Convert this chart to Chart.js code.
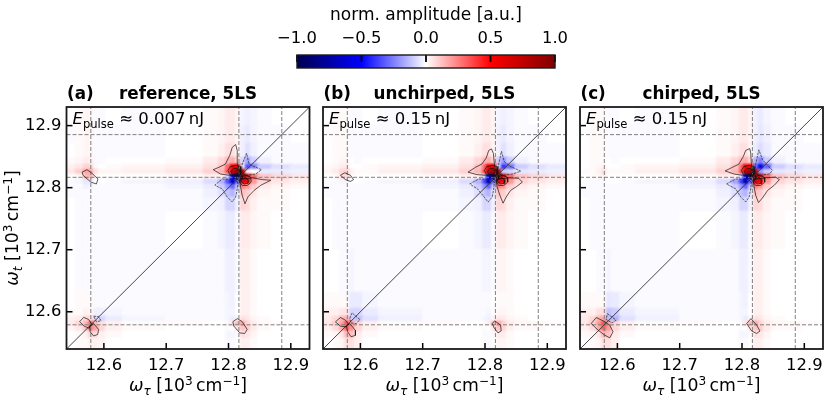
<!DOCTYPE html>
<html>
<head>
<meta charset="utf-8">
<title>norm. amplitude</title>
<script src="https://cdn.jsdelivr.net/npm/chart.js@4"></script>
<style>
  body { margin: 0; background: #fff; }
  canvas { position: absolute; left: 0; top: 0; }
</style>
</head>
<body>
<canvas id="colorbar" width="831" height="396"></canvas>
<canvas id="panelA" width="831" height="396"></canvas>
<canvas id="panelB" width="831" height="396"></canvas>
<canvas id="panelC" width="831" height="396"></canvas>
<script>
// Dados
const omegaTicks = [12.6, 12.7, 12.8, 12.9];
const colorbarTicks = [-1, -0.5, 0, 0.5, 1];
const axisMin = 12.54;
const axisMax = 12.93;
const peakLines = [12.579, 12.8167, 12.8855];
const titlesLeft = ["(a)", "(b)", "(c)"];
const titlesCenter = ["reference, 5LS", "unchirped, 5LS", "chirped, 5LS"];
const pulseEnergies = ["0.007", "0.15", "0.15"];

// Bordas das celulas da grade (10^3 cm^-1)
const cellEdges = [12.54, 12.556, 12.568, 12.576, 12.584, 12.592, 12.604, 12.63, 12.70, 12.76, 12.784,
  12.796, 12.804, 12.812, 12.82, 12.828, 12.836, 12.848, 12.87, 12.90, 12.93];

// Amplitude em %, linhas de cima para baixo
const ampA = [
  [0, 1, 2, 2, -1, -1, 0, -1, 0, 1, 2, 4, 4, 2, -2, -3, -2, -1, 0, 0],
  [-1, 1, 2, 2, -1, -1, -1, -1, 0, 1, 2, 4, 4, 2, -3, -4, -2, -1, -1, 0],
  [0, 1, 2, 2, -1, -1, -1, -1, 0, 1, 3, 6, 6, 2, -3, -6, -3, -1, -1, -1],
  [1, 2, 4, 3, -1, -1, 0, 0, 1, 4, 8, 14, 16, 8, -8, -18, -9, -3, -1, -1],
  [3, 5, 9, 8, -1, 0, 1, 2, 3, 6, 12, 30, 55, 60, -5, -35, -25, -10, -6, -4],
  [5, 10, 18, 18, 6, 2, 2, 3, 5, 9, 15, 35, 70, 90, 85, 5, 0, -4, -4, -3],
  [0, 2, 14, 15, 1, 0, 0, 0, 1, 3, 3, -8, -60, -95, 95, 70, 30, 12, 8, 5],
  [-1, -2, -5, -4, 0, 0, -1, -2, -3, -7, -15, -35, -70, -30, 60, 55, 20, 8, 5, 3],
  [-1, -1, -3, -2, -1, -1, -1, -1, -2, -4, -10, -20, -30, -10, 25, 20, 10, 4, 2, 1],
  [-1, -1, -1, -1, -1, -1, -1, -1, -1, -3, -6, -12, -15, -5, 12, 10, 5, 2, 1, 0],
  [0, -1, -1, -1, -1, -1, -1, -1, -1, -2, -3, -8, -8, -3, 8, 7, 3, 1, 1, 0],
  [0, -1, -1, -1, -1, -1, -1, -1, 0, -1, -2, -4, -4, -1, 4, 4, 2, 1, 0, 0],
  [0, -1, -1, -1, -1, -1, -1, -1, -1, -1, -1, -3, -3, -1, 3, 3, 1, 0, 0, 0],
  [0, 1, 1, 1, -1, -1, -1, -1, -1, -1, -1, -2, -3, 0, 3, 3, 1, 0, 0, 0],
  [1, 1, 3, 2, -3, -3, -2, -1, -1, -1, -1, -2, -2, 0, 3, 3, 1, 0, 0, 0],
  [3, 4, 8, 8, -6, -8, -4, -2, -1, -1, -1, -2, -4, 2, 6, 5, 2, 1, 0, 0],
  [4, 8, 15, 30, 14, 6, 3, 1, 1, 0, 0, 2, 5, 15, 18, 8, 4, 1, 1, 0],
  [2, 5, 12, 25, 18, 8, 3, 1, 0, 0, 0, -1, 0, 5, 12, 10, 4, 1, 0, 0],
  [0, 1, 3, 8, 7, 3, 1, 0, 0, 0, 0, -2, -2, 1, 6, 5, 2, 0, 0, 0],
  [0, 1, 1, 3, 3, 2, 0, 0, 0, 0, 0, -1, -1, 0, 3, 3, 1, 0, 0, 0],
];

const ampB = [
  [0, 1, 1, 1, -1, -1, 0, -1, 0, 1, 2, 4, 4, 2, -2, -3, -2, -1, 0, 0],
  [0, 1, 1, 1, -1, -1, -1, -1, 0, 1, 2, 4, 4, 2, -3, -4, -2, -1, -1, 0],
  [0, 1, 1, 1, -1, -1, -1, -1, 0, 1, 3, 6, 6, 2, -3, -6, -3, -1, -1, -1],
  [0, 1, 2, 2, 0, -1, 0, 0, 1, 4, 8, 14, 16, 8, -10, -20, -10, -3, -1, -1],
  [1, 2, 4, 4, 0, 0, 1, 2, 3, 6, 12, 30, 55, 60, -10, -40, -28, -10, -6, -4],
  [2, 4, 8, 9, 3, 1, 1, 3, 5, 9, 15, 35, 70, 90, 85, -10, -8, -5, -4, -3],
  [0, 1, 7, 8, 1, 0, 0, 0, 1, 3, 3, -8, -60, -95, 95, 70, 30, 12, 8, 5],
  [-1, -1, -2, -2, 0, 0, -1, -2, -3, -7, -15, -35, -70, -30, 60, 55, 20, 8, 5, 3],
  [-1, -1, -1, -1, -1, -1, -1, -1, -2, -4, -10, -20, -30, -10, 25, 20, 10, 4, 2, 1],
  [-1, -1, -1, -1, -1, -1, -1, -1, -1, -3, -6, -12, -15, -5, 12, 10, 5, 2, 1, 0],
  [0, -1, -1, -1, -1, -1, -1, -1, -1, -2, -3, -8, -8, -3, 8, 7, 3, 1, 1, 0],
  [0, -1, -1, -1, -1, -1, -1, -1, 0, -1, -2, -4, -4, -1, 4, 4, 2, 1, 0, 0],
  [0, 0, -1, -1, -2, -1, -1, -1, -1, -1, -1, -2, -2, -1, 2, 2, 1, 0, 0, 0],
  [1, 1, 1, 1, -4, -4, -2, -1, -1, -1, -1, -1, -1, 0, 1, 1, 1, 0, 0, 0],
  [3, 3, 5, 5, -8, -8, -4, -2, -1, -1, -1, -1, -2, 0, 2, 2, 1, 0, 0, 0],
  [4, 8, 14, 16, -10, -12, -6, -3, -1, -1, -1, -2, -3, 2, 5, 4, 2, 1, 0, 0],
  [5, 10, 18, 35, 20, 8, 3, 1, 1, 0, 0, 1, 3, 14, 18, 9, 4, 2, 2, 1],
  [3, 7, 16, 32, 22, 8, 3, 1, 0, 0, 0, -1, 0, 5, 12, 8, 3, 1, 1, 0],
  [1, 2, 5, 14, 12, 4, 1, 0, 0, 0, 0, -1, -1, 1, 4, 4, 1, 0, 0, 0],
  [0, 1, 2, 6, 6, 3, 0, 0, 0, 0, 0, -1, -1, 0, 2, 2, 1, 0, 0, 0],
];

const ampC = [
  [0, 1, 1, 1, -1, -1, 0, -1, 0, 1, 2, 4, 4, 2, -3, -4, -2, -1, 0, 0],
  [0, 1, 1, 1, -1, -1, -1, -1, 0, 1, 2, 4, 4, 2, -3, -5, -3, -1, -1, 0],
  [0, 1, 1, 1, -1, -1, -1, -1, 0, 1, 3, 6, 6, 2, -4, -7, -4, -1, -1, -1],
  [0, 1, 1, 1, 0, -1, 0, 0, 1, 4, 8, 14, 16, 8, -15, -25, -10, -3, -1, -1],
  [0, 1, 2, 2, 0, 0, 1, 2, 3, 6, 12, 30, 55, 50, -30, -55, -30, -10, -6, -4],
  [1, 1, 3, 6, 1, 1, 1, 3, 5, 9, 15, 35, 70, 92, 80, -20, -10, -5, -4, -3],
  [0, 1, 2, 3, 0, 0, 0, 0, 1, 3, 3, -8, -60, -95, 95, 70, 30, 12, 8, 5],
  [-1, -1, -1, -1, 0, 0, -1, -2, -3, -7, -18, -38, -72, -30, 60, 55, 20, 8, 5, 3],
  [-1, -1, -1, -1, -1, -1, -1, -1, -2, -4, -10, -20, -30, -10, 25, 20, 10, 4, 2, 1],
  [-1, -1, -1, -1, -1, -1, -1, -1, -1, -3, -6, -12, -15, -5, 12, 10, 5, 2, 1, 0],
  [0, -1, -1, -1, -1, -1, -1, -1, -1, -2, -3, -8, -8, -3, 8, 7, 3, 1, 1, 0],
  [0, -1, -1, -1, -1, -1, -1, -1, 0, -1, -2, -4, -4, -1, 4, 4, 2, 1, 0, 0],
  [0, 0, -1, -1, -2, -1, -1, -1, -1, -1, -1, -3, -3, -1, 3, 3, 1, 0, 0, 0],
  [1, 1, 1, 1, -5, -4, -2, -1, -1, -1, -1, -2, -3, 0, 3, 3, 1, 0, 0, 0],
  [3, 3, 6, 6, -12, -10, -4, -2, -1, -1, -1, -2, -2, 0, 3, 3, 1, 0, 0, 0],
  [4, 8, 15, 18, -14, -15, -6, -3, -1, -1, -1, -2, -4, 2, 6, 5, 2, 1, 0, 0],
  [5, 10, 20, 35, 18, 8, 3, 1, 1, 0, 0, 2, 5, 15, 18, 8, 4, 2, 2, 1],
  [3, 7, 17, 32, 20, 8, 3, 1, 0, 0, 0, -1, 0, 5, 12, 10, 4, 1, 1, 0],
  [1, 2, 5, 14, 12, 4, 1, 0, 0, 0, 0, -2, -2, 1, 6, 5, 2, 0, 0, 0],
  [0, 1, 2, 6, 6, 3, 0, 0, 0, 0, 0, -1, -1, 0, 3, 3, 1, 0, 0, 0],
];

// Contornos [xs, ys]: positivos (solidos) e negativos (tracejados)
const peakContours = [
  [[12.799, 12.803, 12.8115, 12.8195, 12.8195, 12.8115, 12.802, 12.799], [12.828, 12.834, 12.836, 12.834, 12.822, 12.818, 12.821, 12.828]],
  [[12.8195, 12.8275, 12.8355, 12.8365, 12.830, 12.822, 12.818, 12.8195], [12.817, 12.820, 12.817, 12.809, 12.8035, 12.8035, 12.809, 12.817]],
  [[12.804, 12.808, 12.814, 12.817, 12.814, 12.806, 12.804], [12.826, 12.831, 12.831, 12.825, 12.820, 12.821, 12.826]],
  [[12.821, 12.827, 12.832, 12.831, 12.825, 12.820, 12.821], [12.815, 12.816, 12.812, 12.807, 12.806, 12.810, 12.815]],
  [[12.813, 12.818, 12.822, 12.822, 12.817, 12.813, 12.813], [12.818, 12.822, 12.819, 12.814, 12.812, 12.814, 12.818]],
];
const positiveA = [
  [[12.818, 12.815, 12.814, 12.8115, 12.806, 12.802, 12.795, 12.785, 12.7755, 12.787, 12.801, 12.8115, 12.818], [12.825, 12.838, 12.860, 12.8695, 12.865, 12.852, 12.838, 12.833, 12.829, 12.822, 12.820, 12.820, 12.825]],
  [[12.818, 12.822, 12.838, 12.854, 12.868, 12.852, 12.841, 12.831, 12.8265, 12.822, 12.8195, 12.818], [12.812, 12.814, 12.816, 12.813, 12.812, 12.804, 12.7955, 12.785, 12.774, 12.7875, 12.801, 12.812]],
  [[12.565, 12.573, 12.581, 12.5905, 12.588, 12.579, 12.5665, 12.565], [12.825, 12.829, 12.823, 12.814, 12.806, 12.809, 12.820, 12.825]],
  [[12.561, 12.5675, 12.5756, 12.581, 12.576, 12.568, 12.561], [12.584, 12.591, 12.5875, 12.579, 12.5735, 12.577, 12.584]],
  [[12.577, 12.5836, 12.5916, 12.590, 12.5836, 12.578, 12.577], [12.577, 12.581, 12.5715, 12.5634, 12.561, 12.5677, 12.577]],
  [[12.807, 12.814, 12.822, 12.830, 12.826, 12.818, 12.8085, 12.807], [12.584, 12.589, 12.584, 12.5715, 12.565, 12.566, 12.577, 12.584]],
];
const negativeA = [
  [[12.8206, 12.822, 12.829, 12.833, 12.841, 12.853, 12.844, 12.830, 12.822, 12.8206], [12.825, 12.838, 12.8555, 12.838, 12.834, 12.829, 12.822, 12.820, 12.822, 12.825]],
  [[12.815, 12.809, 12.790, 12.778, 12.790, 12.798, 12.806, 12.8115, 12.814, 12.815], [12.809, 12.813, 12.814, 12.804, 12.798, 12.785, 12.777, 12.785, 12.798, 12.809]],
  [[12.5836, 12.5916, 12.5954, 12.588, 12.5836], [12.593, 12.592, 12.5854, 12.584, 12.593]],
];
const positiveB = [
  [[12.818, 12.815, 12.8135, 12.8104, 12.806, 12.802, 12.795, 12.785, 12.7728, 12.787, 12.801, 12.8115, 12.818], [12.825, 12.838, 12.855, 12.8625, 12.860, 12.848, 12.838, 12.833, 12.825, 12.821, 12.820, 12.820, 12.825]],
  [[12.818, 12.822, 12.838, 12.854, 12.860, 12.851, 12.841, 12.834, 12.829, 12.824, 12.8195, 12.818], [12.812, 12.814, 12.816, 12.815, 12.809, 12.802, 12.7955, 12.785, 12.775, 12.7875, 12.801, 12.812]],
  [[12.568, 12.575, 12.584, 12.589, 12.584, 12.576, 12.568], [12.820, 12.824, 12.820, 12.813, 12.810, 12.813, 12.820]],
  [[12.560, 12.568, 12.576, 12.581, 12.5775, 12.568, 12.560], [12.5838, 12.5907, 12.5865, 12.580, 12.5757, 12.5768, 12.5838]],
  [[12.5775, 12.583, 12.592, 12.592, 12.585, 12.5796, 12.5775], [12.5768, 12.581, 12.570, 12.562, 12.5597, 12.5677, 12.5768]],
  [[12.8117, 12.8155, 12.825, 12.826, 12.8208, 12.8144, 12.8117], [12.581, 12.5854, 12.5784, 12.5693, 12.566, 12.5747, 12.581]],
];
const negativeB = [
  [[12.8206, 12.822, 12.8264, 12.831, 12.841, 12.8575, 12.844, 12.830, 12.822, 12.8206], [12.825, 12.838, 12.8587, 12.842, 12.834, 12.8266, 12.822, 12.820, 12.822, 12.825]],
  [[12.815, 12.809, 12.790, 12.7755, 12.788, 12.797, 12.805, 12.8115, 12.814, 12.815], [12.809, 12.813, 12.814, 12.806, 12.798, 12.787, 12.7767, 12.785, 12.798, 12.809]],
  [[12.583, 12.5866, 12.599, 12.5935, 12.5847, 12.583], [12.5891, 12.5983, 12.5875, 12.581, 12.582, 12.5891]],
];
const positiveC = [
  [[12.818, 12.815, 12.814, 12.8125, 12.806, 12.802, 12.795, 12.785, 12.773, 12.787, 12.801, 12.8115, 12.818], [12.825, 12.838, 12.856, 12.863, 12.860, 12.850, 12.838, 12.833, 12.827, 12.822, 12.820, 12.820, 12.825]],
  [[12.818, 12.822, 12.838, 12.854, 12.860, 12.852, 12.841, 12.834, 12.8265, 12.822, 12.8195, 12.818], [12.812, 12.814, 12.816, 12.817, 12.813, 12.804, 12.7955, 12.785, 12.776, 12.7875, 12.801, 12.812]],
  [[12.558, 12.566, 12.577, 12.5877, 12.593, 12.5877, 12.5796, 12.569, 12.558], [12.581, 12.5907, 12.5854, 12.5784, 12.5677, 12.558, 12.5623, 12.5704, 12.581]],
  [[12.8075, 12.8144, 12.8235, 12.8289, 12.8235, 12.8155, 12.8075], [12.581, 12.589, 12.5784, 12.569, 12.565, 12.569, 12.581]],
];
const negativeC = [
  [[12.8206, 12.822, 12.827, 12.833, 12.841, 12.849, 12.844, 12.830, 12.822, 12.8206], [12.825, 12.838, 12.861, 12.845, 12.836, 12.828, 12.822, 12.820, 12.822, 12.825]],
  [[12.815, 12.809, 12.790, 12.775, 12.790, 12.798, 12.806, 12.8115, 12.814, 12.815], [12.809, 12.813, 12.814, 12.806, 12.798, 12.785, 12.777, 12.785, 12.798, 12.809]],
  [[12.584, 12.598, 12.5914, 12.582, 12.584], [12.597, 12.5865, 12.582, 12.5875, 12.597]],
];

// Textos com formula: cada pedaco tem seu estilo
const thin = "\u2009";
const unitRuns = [{ t: " [10" }, { t: "3", k: "sup" }, { t: thin + "cm" }, { t: "\u22121", k: "sup" }, { t: "]" }];
const xTitleRuns = [{ t: "\u03c9", k: "it" }, { t: "\u03c4", k: "itsub" }].concat(unitRuns);
const yTitleRuns = [{ t: "\u03c9", k: "it" }, { t: "t", k: "itsub" }].concat(unitRuns);

const fontFamily = '"DejaVu Sans"';
const tickSize = 16.4;

// Mapa de cores seismic
function seismic(v) {
  v = Math.max(-1, Math.min(1, v));
  var r, g, b;
  if (v < -0.5) { r = 0; g = 0; b = 76.5 + (v + 1) * 2 * 178.5; }
  else if (v < 0) { r = (v + 0.5) * 2 * 255; g = r; b = 255; }
  else if (v < 0.5) { r = 255; g = (0.5 - v) * 2 * 255; b = g; }
  else { r = 255 - (v - 0.5) * 2 * 127.5; g = 0; b = 0; }
  return "rgb(" + Math.round(r) + "," + Math.round(g) + "," + Math.round(b) + ")";
}

// Monta as celulas a partir da matriz
function buildCells(matrix) {
  var cells = [];
  var n = cellEdges.length - 1;
  for (var row = 0; row < matrix.length; row++) {
    var r = n - 1 - row;
    for (var c = 0; c < n; c++) {
      cells.push({
        x: (cellEdges[c] + cellEdges[c + 1]) / 2,
        y: (cellEdges[r] + cellEdges[r + 1]) / 2,
        x0: cellEdges[c], x1: cellEdges[c + 1],
        y0: cellEdges[r], y1: cellEdges[r + 1],
        v: matrix[row][c] / 100,
      });
    }
  }
  return cells;
}

function runFont(run, size) {
  var k = run.k || "";
  var s = k === "sub" || k === "sup" || k === "itsub" ? size * 0.7 : size;
  var style = k === "it" || k === "itsub" ? "italic " : "";
  var weight = run.bold ? "bold " : "";
  return style + weight + s + "px " + fontFamily;
}

function drawRuns(ctx, label) {
  var size = label.size;
  ctx.save();
  ctx.translate(label.x, label.y);
  if (label.rotate) ctx.rotate(label.rotate);
  ctx.fillStyle = "#000";
  ctx.textBaseline = "alphabetic";
  ctx.textAlign = "left";
  var total = 0;
  label.runs.forEach(function (run) {
    ctx.font = runFont(run, size);
    total += ctx.measureText(run.t).width;
  });
  var cx = label.align === "center" ? -total / 2 : 0;
  label.runs.forEach(function (run) {
    ctx.font = runFont(run, size);
    var dy = 0;
    if (run.k === "sup") dy = -size * 0.36;
    if (run.k === "sub" || run.k === "itsub") dy = size * 0.22;
    ctx.fillText(run.t, cx, dy);
    cx += ctx.measureText(run.t).width;
  });
  ctx.restore();
}

// Desenha as celulas do dataset "amplitude" pelas escalas do grafico
const heatPlugin = {
  id: "heat",
  beforeDatasetsDraw(chart) {
    var set = chart.data.datasets.find(function (d) { return d.label === "amplitude"; });
    if (!set) return;
    var ctx = chart.ctx, sx = chart.scales.x, sy = chart.scales.y, area = chart.chartArea;
    ctx.save();
    ctx.beginPath();
    ctx.rect(area.left, area.top, area.right - area.left, area.bottom - area.top);
    ctx.clip();
    ctx.filter = "blur(1.3px)";
    set.data.forEach(function (cell) {
      var left = Math.round(sx.getPixelForValue(cell.x0));
      var right = Math.round(sx.getPixelForValue(cell.x1));
      var top = Math.round(sy.getPixelForValue(cell.y1));
      var bottom = Math.round(sy.getPixelForValue(cell.y0));
      ctx.fillStyle = seismic(cell.v);
      ctx.fillRect(left - 1, top - 1, right - left + 2, bottom - top + 2);
    });
    ctx.restore();
  },
};

// Moldura, marcas para dentro e textos
const framePlugin = {
  id: "frame",
  afterDraw(chart, args, opts) {
    var ctx = chart.ctx, area = chart.chartArea;
    ctx.save();
    ctx.strokeStyle = "#000";
    ctx.lineWidth = opts.tickWidth;
    Object.values(chart.scales).forEach(function (scale) {
      if (scale.type !== "linear") return;
      scale.ticks.forEach(function (tick) {
        var p = scale.getPixelForValue(tick.value);
        ctx.beginPath();
        if (scale.axis === "x") {
          var edge = scale.position === "top" ? area.top : area.bottom;
          var dir = scale.position === "top" ? 1 : -1;
          ctx.moveTo(p, edge);
          ctx.lineTo(p, edge + dir * opts.tickLength);
        } else {
          ctx.moveTo(area.left, p);
          ctx.lineTo(area.left + opts.tickLength, p);
        }
        ctx.stroke();
      });
    });
    ctx.strokeStyle = "#1a1a1a";
    ctx.lineWidth = opts.frameWidth;
    ctx.strokeRect(area.left, area.top, area.right - area.left, area.bottom - area.top);
    ctx.restore();
    (opts.labels || []).forEach(function (label) { drawRuns(ctx, label); });
  },
};

Chart.register(heatPlugin, framePlugin);

function lineSet(xs, ys, color, width, dash) {
  return {
    type: "scatter",
    data: xs.map(function (x, i) { return { x: x, y: ys[i] }; }),
    showLine: true,
    borderColor: color,
    borderWidth: width,
    borderDash: dash || [],
    pointRadius: 0,
    tension: 0,
  };
}

function renderPanel(canvasId, index, left, matrix, positive, negative) {
  var right = left + 243;
  var sets = [{ type: "scatter", label: "amplitude", data: buildCells(matrix), pointRadius: 0 }];
  positive.concat(peakContours).forEach(function (c) { sets.push(lineSet(c[0], c[1], "#111", 0.7)); });
  negative.forEach(function (c) { sets.push(lineSet(c[0], c[1], "#222", 0.7, [2.5, 1])); });
  sets.push(lineSet([axisMin, axisMax], [axisMin, axisMax], "#333", 0.9));
  peakLines.forEach(function (p) {
    sets.push(lineSet([p, p], [axisMin, axisMax], "#808080", 1, [4, 2]));
    sets.push(lineSet([axisMin, axisMax], [p, p], "#808080", 1, [4, 2]));
  });

  var labels = [
    { x: left + 0.5, y: 99, size: 16.8, runs: [{ t: titlesLeft[index], bold: true }] },
    { x: left + 121.5, y: 99, size: 16.8, align: "center", runs: [{ t: titlesCenter[index], bold: true }] },
    {
      x: left + 6, y: 124, size: 16.5,
      runs: [{ t: "E", k: "it" }, { t: "pulse", k: "sub" }, { t: " \u2248 " + pulseEnergies[index] + thin + "nJ" }],
    },
    { x: left + 121.5, y: 391, size: 17.3, align: "center", runs: xTitleRuns },
  ];
  if (index === 0) labels.push({ x: 18, y: 228, size: 17.3, align: "center", rotate: -Math.PI / 2, runs: yTitleRuns });

  new Chart(document.getElementById(canvasId), {
    data: { datasets: sets },
    options: {
      responsive: false,
      animation: false,
      layout: { padding: { left: 0, right: 831 - right, top: 107, bottom: 0 } },
      plugins: {
        legend: { display: false },
        tooltip: { enabled: false },
        frame: { labels: labels, tickLength: 6, tickWidth: 1.5, frameWidth: 1.8 },
      },
      scales: {
        x: {
          type: "linear", min: axisMin, max: axisMax,
          afterBuildTicks: function (axis) { axis.ticks = omegaTicks.map(function (v) { return { value: v }; }); },
          afterFit: function (axis) { axis.height = 396 - 349; },
          grid: { display: false, drawTicks: false },
          border: { display: false },
          ticks: {
            color: "#000", padding: 7, maxRotation: 0, autoSkip: false,
            font: { family: fontFamily, size: tickSize },
            callback: function (v) { return v.toFixed(1); },
          },
        },
        y: {
          type: "linear", min: axisMin, max: axisMax,
          afterBuildTicks: function (axis) { axis.ticks = omegaTicks.map(function (v) { return { value: v }; }); },
          afterFit: function (axis) { axis.width = left; },
          grid: { display: false, drawTicks: false },
          border: { display: false },
          ticks: {
            display: index === 0, color: "#000", padding: 5, autoSkip: false,
            font: { family: fontFamily, size: tickSize },
            callback: function (v) { return v.toFixed(1); },
          },
        },
      },
    },
  });
}

function renderColorbar() {
  new Chart(document.getElementById("colorbar"), {
    type: "bar",
    data: {
      labels: ["norm. amplitude"],
      datasets: [{
        data: [[colorbarTicks[0], colorbarTicks[colorbarTicks.length - 1]]],
        barPercentage: 1,
        categoryPercentage: 1,
        backgroundColor: function (context) {
          var area = context.chart.chartArea;
          if (!area) return "#fff";
          var grad = context.chart.ctx.createLinearGradient(area.left, 0, area.right, 0);
          [-1, -0.5, 0, 0.5, 1].forEach(function (v) { grad.addColorStop((v + 1) / 2, seismic(v)); });
          return grad;
        },
      }],
    },
    options: {
      indexAxis: "y",
      responsive: false,
      animation: false,
      layout: { padding: { left: 297, right: 831 - 555, top: 0, bottom: 396 - 68 } },
      plugins: {
        legend: { display: false },
        tooltip: { enabled: false },
        frame: {
          tickLength: 7, tickWidth: 1.8, frameWidth: 1.4,
          labels: [{ x: 426, y: 20, size: 17, align: "center", runs: [{ t: "norm. amplitude [a.u.]" }] }],
        },
      },
      scales: {
        x: {
          type: "linear", position: "top", min: -1, max: 1,
          afterBuildTicks: function (axis) { axis.ticks = colorbarTicks.map(function (v) { return { value: v }; }); },
          afterFit: function (axis) { axis.height = 55; },
          grid: { display: false, drawTicks: false },
          border: { display: false },
          ticks: {
            color: "#000", padding: 6, maxRotation: 0, autoSkip: false,
            font: { family: fontFamily, size: tickSize },
            callback: function (v) { return (v < 0 ? "\u2212" : "") + Math.abs(v).toFixed(1); },
          },
        },
        y: { display: false },
      },
    },
  });
}

renderColorbar();
renderPanel("panelA", 0, 66.5, ampA, positiveA, negativeA);
renderPanel("panelB", 1, 323, ampB, positiveB, negativeB);
renderPanel("panelC", 2, 580, ampC, positiveC, negativeC);
</script>
</body>
</html>
